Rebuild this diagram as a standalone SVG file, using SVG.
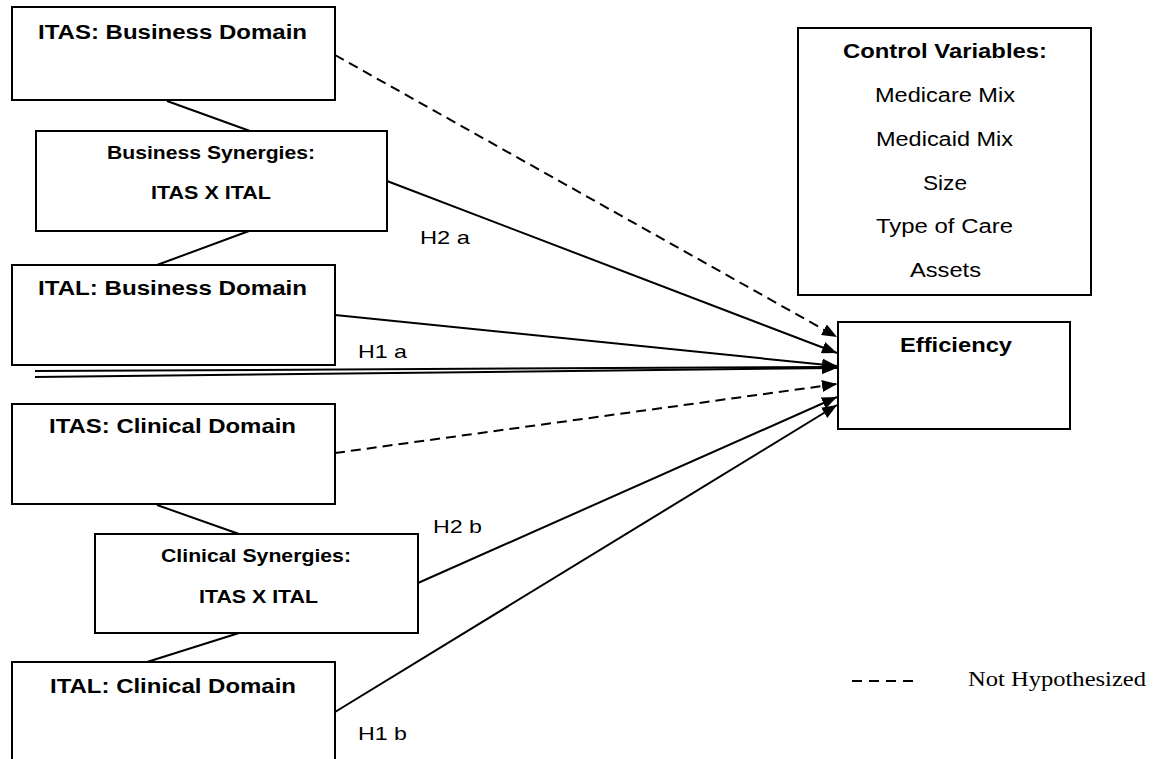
<svg xmlns="http://www.w3.org/2000/svg" width="1162" height="759" viewBox="0 0 1162 759">
<defs>
<marker id="ah" markerUnits="userSpaceOnUse" markerWidth="16" markerHeight="12" refX="15" refY="6" orient="auto">
<path d="M0,0 L15,6 L0,12 z" fill="#000"/>
</marker>
<style>
.box{fill:#fff;stroke:#000;stroke-width:2}
.b{font-family:"Liberation Sans",Arial,sans-serif;font-weight:bold;fill:#000}
.r{font-family:"Liberation Sans",Arial,sans-serif;fill:#000}
.s{font-family:"Liberation Serif","Times New Roman",serif;fill:#000}
.ln{stroke:#000;stroke-width:2;fill:none}
.ar{stroke:#000;stroke-width:2;fill:none;marker-end:url(#ah)}
.da{stroke-dasharray:10 6}
</style>
</defs>
<rect width="1162" height="759" fill="#fff"/>
<g id="connectors">
<line class="ln" x1="167" y1="101" x2="250" y2="131"/>
<line class="ln" x1="249" y1="231" x2="157" y2="265"/>
<line class="ln" x1="157" y1="505" x2="239" y2="534"/>
<line class="ln" x1="239" y1="633" x2="147" y2="662"/>
<line class="ar da" x1="335" y1="55" x2="837" y2="337"/>
<line class="ar" x1="387" y1="181" x2="837" y2="353"/>
<line class="ar" x1="335" y1="315" x2="837" y2="366"/>
<line class="ln" x1="35" y1="371" x2="830" y2="367"/>
<line class="ar" x1="35" y1="377" x2="837" y2="368"/>
<line class="ar da" x1="335" y1="453" x2="837" y2="384"/>
<line class="ar" x1="418" y1="583" x2="837" y2="397"/>
<line class="ar" x1="335" y1="712" x2="837" y2="405"/>
</g>
<g id="n-itas-business">
<rect class="box" x="12" y="7" width="323" height="93"/>
<text class="b" x="38" y="39" font-size="20" textLength="269" lengthAdjust="spacingAndGlyphs">ITAS: Business Domain</text>
</g>
<g id="n-business-synergies">
<rect class="box" x="36" y="131" width="351" height="100"/>
<text class="b" x="107" y="159" font-size="18.5" textLength="208" lengthAdjust="spacingAndGlyphs">Business Synergies:</text>
<text class="b" x="151" y="199" font-size="18.5" textLength="120" lengthAdjust="spacingAndGlyphs">ITAS X ITAL</text>
</g>
<g id="n-ital-business">
<rect class="box" x="12" y="265" width="323" height="100"/>
<text class="b" x="38" y="295" font-size="20" textLength="269" lengthAdjust="spacingAndGlyphs">ITAL: Business Domain</text>
</g>
<g id="n-itas-clinical">
<rect class="box" x="12" y="404" width="323" height="100"/>
<text class="b" x="49" y="433" font-size="20" textLength="247" lengthAdjust="spacingAndGlyphs">ITAS: Clinical Domain</text>
</g>
<g id="n-clinical-synergies">
<rect class="box" x="95" y="534" width="323" height="99"/>
<text class="b" x="161" y="562" font-size="18.5" textLength="190" lengthAdjust="spacingAndGlyphs">Clinical Synergies:</text>
<text class="b" x="199" y="603" font-size="18.5" textLength="119" lengthAdjust="spacingAndGlyphs">ITAS X ITAL</text>
</g>
<g id="n-ital-clinical">
<rect class="box" x="12" y="662" width="323" height="120"/>
<text class="b" x="50" y="693" font-size="20" textLength="246" lengthAdjust="spacingAndGlyphs">ITAL: Clinical Domain</text>
</g>
<g id="n-control">
<rect class="box" x="798" y="28" width="293" height="267"/>
<text class="b" x="843" y="58" font-size="19.5" textLength="204" lengthAdjust="spacingAndGlyphs">Control Variables:</text>
<text class="r" x="875" y="102" font-size="19.5" textLength="140" lengthAdjust="spacingAndGlyphs">Medicare Mix</text>
<text class="r" x="876" y="146" font-size="19.5" textLength="137" lengthAdjust="spacingAndGlyphs">Medicaid Mix</text>
<text class="r" x="923" y="190" font-size="19.5" textLength="44" lengthAdjust="spacingAndGlyphs">Size</text>
<text class="r" x="876" y="233" font-size="19.5" textLength="137" lengthAdjust="spacingAndGlyphs">Type of Care</text>
<text class="r" x="910" y="277" font-size="19.5" textLength="71" lengthAdjust="spacingAndGlyphs">Assets</text>
</g>
<g id="n-efficiency">
<rect class="box" x="838" y="322" width="232" height="107"/>
<text class="b" x="900" y="352" font-size="20" textLength="112" lengthAdjust="spacingAndGlyphs">Efficiency</text>
</g>
<g id="labels">
<text class="r" x="420" y="244" font-size="19" textLength="50" lengthAdjust="spacingAndGlyphs">H2 a</text>
<text class="r" x="358" y="358" font-size="19" textLength="49" lengthAdjust="spacingAndGlyphs">H1 a</text>
<text class="r" x="433" y="533" font-size="19" textLength="49" lengthAdjust="spacingAndGlyphs">H2 b</text>
<text class="r" x="358" y="740" font-size="19" textLength="49" lengthAdjust="spacingAndGlyphs">H1 b</text>
</g>
<g id="legend">
<line class="ln" x1="852" y1="681" x2="918" y2="681" stroke-dasharray="10 7"/>
<text class="s" x="968" y="686" font-size="20" textLength="178" lengthAdjust="spacingAndGlyphs">Not Hypothesized</text>
</g>
</svg>
